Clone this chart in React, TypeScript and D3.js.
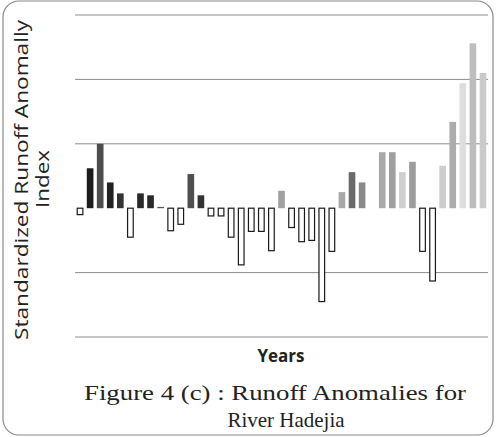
import React from "react";
import * as d3 from "d3";

const years: number[] = Array.from({ length: 41 }, (_, i) => 1970 + i);
const anomalies: number[] = [
  -0.1, 0.62, 1.0, 0.4, 0.23, -0.45, 0.23, 0.2, 0.02, -0.35,
  -0.25, 0.53, 0.2, -0.12, -0.12, -0.45, -0.88, -0.36, -0.36, -0.66,
  0.27, -0.3, -0.52, -0.5, -1.45, -0.67, 0.25, 0.56, 0.4, 0,
  0.87, 0.87, 0.56, 0.72, -0.67, -1.13, 0.66, 1.34, 1.94, 2.56, 2.1,
];
const fills: string[] = [
  "#fff", "#1c1c1c", "#4d4d4d", "#222", "#333", "#fff", "#2a2a2a", "#2a2a2a", "#555", "#fff",
  "#fff", "#4f4f4f", "#333", "#fff", "#fff", "#fff", "#fff", "#fff", "#fff", "#fff",
  "#a0a0a0", "#fff", "#fff", "#fff", "#fff", "#fff", "#a8a8a8", "#6a6a6a", "#8a8a8a", "#ccc",
  "#a9a9a9", "#a0a0a0", "#cfcfcf", "#9c9c9c", "#fff", "#fff", "#cdcdcd", "#acacac", "#dedede", "#bdbdbd", "#cacaca",
];
const gridValues: number[] = [-2, -1, 1, 2, 3];

export default function App() {
  const W = 497, H = 437;
  const x = d3.scaleBand<number>().domain(years).range([75, 488]).paddingInner(0.34).paddingOuter(0.17);
  const y = d3.scaleLinear().domain([-2, 3]).range([337, 15]);
  const y0 = y(0);
  return (
    <svg width={W} height={H} style={{ position: "absolute", left: 0, top: 0, background: "#fff" }}>
      <rect x={3} y={1} width={490} height={434} rx={16} ry={16} fill="#fff" stroke="#8a8a8a" strokeWidth={1.2} />
      {gridValues.map((v) => (
        <line key={v} x1={75} x2={488} y1={y(v)} y2={y(v)} stroke="#8c8c8c" strokeWidth={1} />
      ))}
      {years.map((yr, i) => {
        const v = anomalies[i];
        if (v === 0) return null;
        const xp = x(yr)!;
        const neg = v < 0;
        const top = neg ? y0 : y(v);
        const h = Math.abs(y(v) - y0);
        return neg ? (
          <rect key={yr} x={xp + 0.5} y={top} width={x.bandwidth() - 1} height={h} fill="#fff" stroke="#1a1a1a" strokeWidth={1.2} />
        ) : (
          <rect key={yr} x={xp} y={top} width={x.bandwidth()} height={h} fill={fills[i]} />
        );
      })}
      <g fontFamily="'Open Sans', 'DejaVu Sans', sans-serif" fill="#222">
        <text transform="translate(28,180) rotate(-90)" textAnchor="middle" fontSize={19} textLength={320} lengthAdjust="spacingAndGlyphs">
          Standardized Runoff Anomally
        </text>
        <text transform="translate(49,179) rotate(-90)" textAnchor="middle" fontSize={19} textLength={58} lengthAdjust="spacingAndGlyphs">
          Index
        </text>
        <text x={281} y={362} textAnchor="middle" fontSize={17} fontWeight="bold">Years</text>
      </g>
      <g fontFamily="'Liberation Serif', 'DejaVu Serif', serif" fill="#222">
        <text x={275} y={400} textAnchor="middle" fontSize={21} textLength={382} lengthAdjust="spacingAndGlyphs">
          Figure 4 (c) : Runoff Anomalies  for
        </text>
        <text x={286} y={427} textAnchor="middle" fontSize={21}>River Hadejia</text>
      </g>
    </svg>
  );
}
